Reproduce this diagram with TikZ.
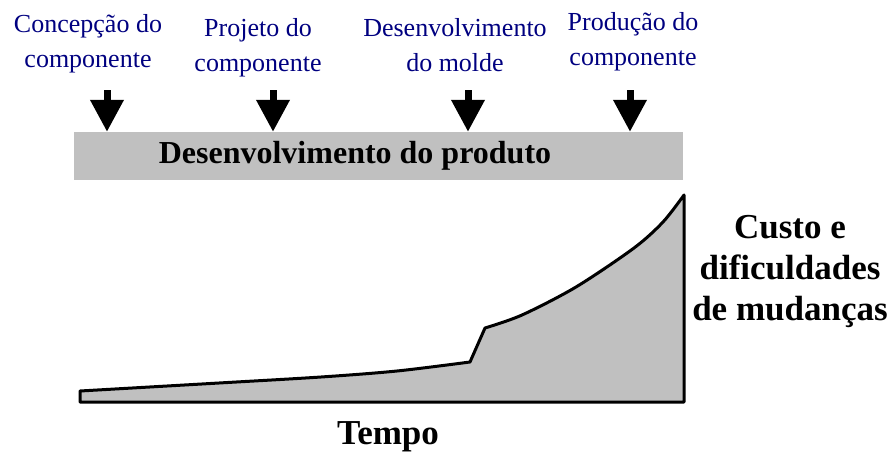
\documentclass[tikz,border=0pt]{standalone}
\usepackage{fontspec}
\setmainfont{Liberation Serif}
\usepackage{xcolor}
\usetikzlibrary{arrows.meta}
\definecolor{navy}{RGB}{0,0,128}
\definecolor{cinza}{RGB}{192,192,192}

\begin{document}
\begin{tikzpicture}[x=1pt,y=-1pt]
\tikzset{
  etapa/.style={text=navy,align=center,font=\fontsize{26}{35}\selectfont},
  titulo/.style={font=\bfseries\fontsize{32}{38}\selectfont},
  eixo/.style={align=center,font=\bfseries\fontsize{35}{41}\selectfont},
  seta/.style={line width=7pt,-{Triangle[length=32pt,width=32pt]}}
}
\useasboundingbox (0,0) rectangle (892,453);

    \node[fill=cinza,minimum width=609pt,minimum height=48pt,inner sep=0pt] (bar) at (378.5,156) {};
    \node[titulo] (prod) at (355,156) {Desenvolvimento do produto};

    \node[etapa] (conc) at (88,44) {Concepção do\\componente};
    \node[etapa] (proj) at (258,48) {Projeto do\\componente};
    \node[etapa] (molde) at (455,45) {Desenvolvimento\\do molde};
    \node[etapa] (fab) at (633,42) {Produção do\\componente};

    \coordinate (s1) at (107,90);
    \coordinate (s2) at (273,90);
    \coordinate (s3) at (468,90);
    \coordinate (s4) at (630,90);
    \draw[seta] (s1) -- (s1 |- bar.north);
    \draw[seta] (s2) -- (s2 |- bar.north);
    \draw[seta] (s3) -- (s3 |- bar.north);
    \draw[seta] (s4) -- (s4 |- bar.north);

    \filldraw[fill=cinza,line width=3pt,line join=round]
        (80,402) -- (80,391)
        -- plot[smooth] coordinates {(80,391) (219,383) (321,377) (397,371) (470,362)}
        -- plot[smooth] coordinates {(485,328) (522,315) (576,287) (634,248) (663,222) (684,195)}
        -- (684,402) -- cycle;

    \node[eixo] (custo) at (790,272) {Custo e\\dificuldades\\de mudanças};
    \node[eixo] (tempo) at (388,437) {Tempo};
\end{tikzpicture}
\end{document}
